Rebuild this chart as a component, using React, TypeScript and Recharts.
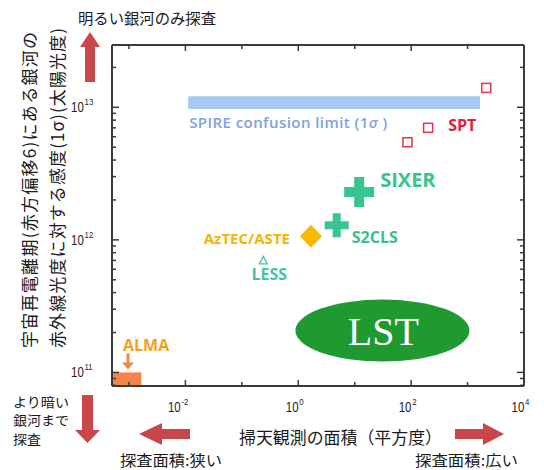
import React from 'react';
import { ScatterChart, Scatter, XAxis, YAxis, ReferenceArea } from 'recharts';

// ---- data ----
const xMajorTicks = [0.01, 1, 100, 10000];
const xMinorTicks = [0.001, 0.1, 10, 1000];
const yMajorTicks = [1e11, 1e12, 1e13];
const yMinorTicks = [
  8e10, 9e10,
  2e11, 3e11, 4e11, 5e11, 6e11, 7e11, 8e11, 9e11,
  2e12, 3e12, 4e12, 5e12, 6e12, 7e12, 8e12, 9e12,
  2e13,
];
const xDomain = [5e-4, 1e4];
const yDomain = [7.9e10, 2.95e13];

const sptData = [
  { x: 2140, y: 1.4e13 },
  { x: 200, y: 7.0e12 },
  { x: 86, y: 5.45e12 },
];
const sixerData = [{ x: 12, y: 2.3e12 }];
const s2clsData = [{ x: 4.8, y: 1.29e12 }];
const aztecData = [{ x: 1.68, y: 1.065e12 }];
const lessData = [{ x: 0.24, y: 7.0e11 }];
const lstData = [{ x: 31, y: 2.07e11 }];
const spireRange = { x1: 0.0112, x2: 1660, y1: 9.7e12, y2: 1.21e13 };
const almaRange = { x1: 5e-4, x2: 0.00166, y1: 7.9e10, y2: 1e11 };

const labels = {
  spire: 'SPIRE confusion limit (1',
  spireSigma: 'σ',
  spireEnd: ' )',
  spt: 'SPT',
  sixer: 'SIXER',
  s2cls: 'S2CLS',
  aztec: 'AzTEC/ASTE',
  less: 'LESS',
  lst: 'LST',
  alma: 'ALMA',
  yTitle1: '宇宙再電離期(赤方偏移6)にある銀河の',
  yTitle2: '赤外線光度に対する感度(1σ)(太陽光度)',
  xTitle: '掃天観測の面積（平方度）',
  up: '明るい銀河のみ探査',
  down: ['より暗い', '銀河まで', '探査'],
  narrow: '探査面積:狭い',
  wide: '探査面積:広い',
};

// ---- styles ----
const NUM = '"Liberation Sans", Arial, sans-serif';
const LAB = '"Open Sans", "Noto Sans", sans-serif';
const JP = '"Noto Sans CJK JP", sans-serif';
const AXIS = '#3a3a3a';
const RED = '#c9474b';

const expOf = (v: number) => Math.round(Math.log10(v));

const PowLabel = ({ x, y, e }: { x: number; y: number; e: number }) => (
  <text transform={`translate(${x},${y}) scale(0.82,1)`} x={0} y={0} fontSize={14} fill="#222" fontFamily={NUM}>
    10<tspan dx={1} dy={-7} fontSize={9.5}>{String(e)}</tspan>
  </text>
);

const XTick = (props: any) => {
  const { x, y, payload } = props;
  const e = expOf(payload.value);
  const sx = x + (e < 0 ? -5 : 0);
  return <PowLabel x={sx - 12.5} y={y} e={e} />;
};

const YTick = (props: any) => {
  const { x, y, payload } = props;
  const e = expOf(payload.value);
  return <PowLabel x={x - 26} y={y + 5} e={e} />;
};

const NoTick = () => <g />;

const plusPath = (cx: number, cy: number, s: number, t: number) => {
  const h = s / 2, w = t / 2;
  return `M${cx - w},${cy - h} L${cx + w},${cy - h} L${cx + w},${cy - w} L${cx + h},${cy - w} L${cx + h},${cy + w} L${cx + w},${cy + w} L${cx + w},${cy + h} L${cx - w},${cy + h} L${cx - w},${cy + w} L${cx - h},${cy + w} L${cx - h},${cy - w} L${cx - w},${cy - w} Z`;
};

const SptShape = (p: any) => (
  <g>
    <rect x={p.cx - 4.5} y={p.cy - 4.5} width={9} height={9} fill="#fff" stroke="#e03545" strokeWidth={1.5} />
    {p.index === 1 && (
      <text x={p.cx + 20} y={p.cy + 3} fontSize={16} fontWeight={700} fill="#e0203a" fontFamily={LAB}>{labels.spt}</text>
    )}
  </g>
);

const SixerShape = (p: any) => (
  <g>
    <path d={plusPath(p.cx, p.cy, 30, 10)} fill="#38c48c" />
    <text x={p.cx + 21} y={p.cy - 5} fontSize={20} fontWeight={700} fill="#38c48c" fontFamily={LAB}>{labels.sixer}</text>
  </g>
);

const S2clsShape = (p: any) => (
  <g>
    <path d={plusPath(p.cx, p.cy, 24, 8)} fill="#38c48c" />
    <text x={p.cx + 15} y={p.cy + 18} fontSize={16} fontWeight={700} fill="#38c08c" fontFamily={LAB}>{labels.s2cls}</text>
  </g>
);

const AztecShape = (p: any) => (
  <g>
    <path d={`M${p.cx},${p.cy - 11.5} L${p.cx + 11},${p.cy} L${p.cx},${p.cy + 11.5} L${p.cx - 11},${p.cy} Z`} fill="#f7b800" />
    <text x={p.cx - 21} y={p.cy + 7.5} textAnchor="end" fontSize={15} fontWeight={700} fill="#f3b600" fontFamily={LAB}>{labels.aztec}</text>
  </g>
);

const LessShape = (p: any) => (
  <g>
    <path d={`M${p.cx},${p.cy - 4} L${p.cx + 4},${p.cy + 3.5} L${p.cx - 4},${p.cy + 3.5} Z`} fill="#fff" stroke="#4cc48a" strokeWidth={1.2} />
    <text x={p.cx + 6} y={p.cy + 20} textAnchor="middle" fontSize={16} fontWeight={700} fill="#44c4a2" fontFamily={LAB}>{labels.less}</text>
  </g>
);

const LstShape = (p: any) => (
  <g>
    <ellipse cx={p.cx} cy={p.cy} rx={87} ry={31} fill="#1f9a30" />
    <text x={p.cx + 1} y={p.cy + 14} textAnchor="middle" fontSize={40} fill="#fff" fontFamily={'"Liberation Serif", "Times New Roman", serif'}>{labels.lst}</text>
  </g>
);

const SpireLabel = (props: any) => {
  const vb = props.viewBox || {};
  return (
    <text x={vb.x + 1} y={vb.y + vb.height + 19} fontSize={15} fontWeight={600} fill="#7d9fe8" fontFamily={LAB}
      textLength={198} lengthAdjust="spacing">
      {labels.spire}<tspan fontStyle="italic">{labels.spireSigma}</tspan>{labels.spireEnd}
    </text>
  );
};

const AlmaLabel = (props: any) => {
  const vb = props.viewBox || {};
  const ax = vb.x + 16;
  const top = vb.y - 19;
  return (
    <g>
      <text x={vb.x + 11} y={vb.y - 21.5} fontSize={16} fontWeight={700} fill="#f5a020" fontFamily={LAB}>{labels.alma}</text>
      <rect x={ax - 1.5} y={top} width={3} height={11} fill="#f08a4a" />
      <path d={`M${ax - 6},${top + 9} L${ax + 6},${top + 9} L${ax},${top + 16} Z`} fill="#f08a4a" />
    </g>
  );
};

const Overlay = () => (
  <svg width={544} height={470} style={{ position: 'absolute', left: 0, top: 0, pointerEvents: 'none' }}>
    {/* y title */}
    <text transform="translate(36,348) rotate(-90)" fontSize={17} fill="#1a1a1a" fontFamily={JP} textLength={316} lengthAdjust="spacing">{labels.yTitle1}</text>
    <text transform="translate(64,348) rotate(-90)" fontSize={17} fill="#1a1a1a" fontFamily={JP} textLength={320} lengthAdjust="spacing">{labels.yTitle2}</text>
    {/* up arrow + text */}
    <text x={78} y={24} fontSize={15} fill="#1a1a1a" fontFamily={JP} textLength={138} lengthAdjust="spacingAndGlyphs">{labels.up}</text>
    <path d="M90,32 L100,47 L95,47 L95,82 L85,82 L85,47 L80,47 Z" fill={RED} />
    {/* down arrow + text */}
    <path d="M82,395 L93,395 L93,430 L100,430 L87.5,443 L75,430 L82,430 Z" fill={RED} />
    {labels.down.map((t, i) => (
      <text key={t} x={13} y={406.5 + i * 18.5} fontSize={13} fill="#1a1a1a" fontFamily={JP}
        textLength={t.length * 14} lengthAdjust="spacingAndGlyphs">{t}</text>
    ))}
    {/* horizontal arrows */}
    <path d="M139,434 L162,423 L162,429 L190,429 L190,439 L162,439 L162,445 Z" fill={RED} />
    <path d="M504,434 L483,423 L483,429 L455,429 L455,439 L483,439 L483,445 Z" fill={RED} />
    <text x={239} y={444} fontSize={17} fill="#1a1a1a" fontFamily={JP} textLength={203} lengthAdjust="spacingAndGlyphs">{labels.xTitle}</text>
    <text x={120} y={466} fontSize={15} fill="#1a1a1a" fontFamily={JP} textLength={102} lengthAdjust="spacingAndGlyphs">{labels.narrow}</text>
    <text x={415} y={466} fontSize={15} fill="#1a1a1a" fontFamily={JP} textLength={103} lengthAdjust="spacingAndGlyphs">{labels.wide}</text>
  </svg>
);

export default function App() {
  const common = { type: 'number' as const, scale: 'log' as const, allowDataOverflow: true, interval: 0 as const };
  return (
    <div style={{ position: 'absolute', left: 0, top: 0, width: 544, height: 470, background: '#fff' }}>
      <ScatterChart width={544} height={470} margin={{ top: 43, right: 18, bottom: 82, left: 110 }}>
        <XAxis xAxisId="b" dataKey="x" orientation="bottom" domain={xDomain} ticks={xMajorTicks} height={1}
          tickSize={-6} tickMargin={32} tick={<XTick />} axisLine={{ stroke: AXIS, strokeWidth: 2 }}
          tickLine={{ stroke: AXIS, strokeWidth: 1.5 }} {...common} />
        <XAxis xAxisId="bm" dataKey="x" orientation="bottom" domain={xDomain} ticks={xMinorTicks} height={1}
          tickSize={-5} tick={<NoTick />} axisLine={false} tickLine={{ stroke: AXIS, strokeWidth: 1.5 }} {...common} />
        <XAxis xAxisId="t" dataKey="x" orientation="top" domain={xDomain} ticks={xMajorTicks} height={1}
          tickSize={-6} tick={<NoTick />} axisLine={{ stroke: AXIS, strokeWidth: 2 }}
          tickLine={{ stroke: AXIS, strokeWidth: 1.5 }} {...common} />
        <XAxis xAxisId="tm" dataKey="x" orientation="top" domain={xDomain} ticks={xMinorTicks} height={1}
          tickSize={-5} tick={<NoTick />} axisLine={false} tickLine={{ stroke: AXIS, strokeWidth: 1.5 }} {...common} />
        <YAxis yAxisId="l" dataKey="y" orientation="left" domain={yDomain} ticks={yMajorTicks} width={1}
          tickSize={-7} tickMargin={22} tick={<YTick />} axisLine={{ stroke: AXIS, strokeWidth: 2 }}
          tickLine={{ stroke: AXIS, strokeWidth: 1.5 }} {...common} />
        <YAxis yAxisId="lm" dataKey="y" orientation="left" domain={yDomain} ticks={yMinorTicks} width={1}
          tickSize={-5} tick={<NoTick />} axisLine={false} tickLine={{ stroke: AXIS, strokeWidth: 1.5 }} {...common} />
        <YAxis yAxisId="r" dataKey="y" orientation="right" domain={yDomain} ticks={yMajorTicks} width={1}
          tickSize={-7} tick={<NoTick />} axisLine={{ stroke: AXIS, strokeWidth: 2 }}
          tickLine={{ stroke: AXIS, strokeWidth: 1.5 }} {...common} />
        <YAxis yAxisId="rm" dataKey="y" orientation="right" domain={yDomain} ticks={yMinorTicks} width={1}
          tickSize={-5} tick={<NoTick />} axisLine={false} tickLine={{ stroke: AXIS, strokeWidth: 1.5 }} {...common} />

        <ReferenceArea xAxisId="b" yAxisId="l" x1={spireRange.x1} x2={spireRange.x2} y1={spireRange.y1} y2={spireRange.y2}
          fill="#a8c8f5" fillOpacity={1} stroke="none" ifOverflow="visible" label={<SpireLabel />} />
        <ReferenceArea xAxisId="b" yAxisId="l" x1={almaRange.x1} x2={almaRange.x2} y1={almaRange.y1} y2={almaRange.y2}
          fill="#f4854a" fillOpacity={1} stroke="none" ifOverflow="visible" label={<AlmaLabel />} />

        <Scatter xAxisId="b" yAxisId="l" data={lstData} shape={<LstShape />} isAnimationActive={false} />
        <Scatter xAxisId="b" yAxisId="l" data={sptData} shape={<SptShape />} isAnimationActive={false} />
        <Scatter xAxisId="b" yAxisId="l" data={sixerData} shape={<SixerShape />} isAnimationActive={false} />
        <Scatter xAxisId="b" yAxisId="l" data={s2clsData} shape={<S2clsShape />} isAnimationActive={false} />
        <Scatter xAxisId="b" yAxisId="l" data={aztecData} shape={<AztecShape />} isAnimationActive={false} />
        <Scatter xAxisId="b" yAxisId="l" data={lessData} shape={<LessShape />} isAnimationActive={false} />
      </ScatterChart>
      <Overlay />
    </div>
  );
}
